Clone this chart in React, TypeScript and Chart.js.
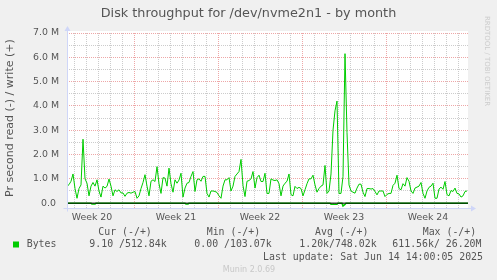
import { useEffect, useRef } from 'react';
import { Chart, registerables } from 'chart.js';

Chart.register(...registerables);

// ---- data ----
const STEP_HOURS = 4;
const RANGE_HOURS = 802;
// write throughput, in M bytes/s, one sample every STEP_HOURS
const WRITE_M = [
  0.69, 0.76, 0.9, 1.2, 0.6, 0.2, 0.6, 0.75, 2.63, 1.0, 0.82, 0.3, 0.7, 0.85, 0.7, 0.96, 0.5, 0.25, 0.7, 0.62,
  0.69, 0.99, 0.7, 0.3, 0.55, 0.48, 0.55, 0.42, 0.42, 0.28, 0.41, 0.44, 0.41, 0.45,
  0.48, 0.2, 0.3, 0.6, 0.85, 1.17, 0.7, 0.3, 0.9, 0.96, 0.89, 1.5, 0.8, 0.4, 1.05, 1.03, 0.7, 1.44, 0.8, 0.45,
  0.96, 0.82, 0.95, 1.23, 0.25, 0.62, 0.82, 0.85, 1.1, 1.3, 0.48, 0.96, 1.0, 0.9, 1.1,
  1.1, 0.4, 0.25, 0.5, 0.5, 0.48, 0.44, 0.3, 0.2, 0.7, 0.96, 0.96, 1.05, 0.5, 0.7, 1.1, 1.2, 1.3, 1.8, 0.72,
  0.27, 0.9, 0.93, 1.0, 1.3, 0.62, 1.05, 1.15, 0.89, 0.89, 1.23, 0.4, 0.4, 1.0, 0.95, 0.93,
  0.96, 0.8, 0.3, 0.7, 0.82, 0.9, 1.2, 0.35, 0.3, 0.69, 0.6, 0.65, 0.6, 0.3, 0.55, 0.8, 1.0, 1.0, 1.15, 0.75,
  0.45, 0.6, 0.7, 0.75, 1.55, 0.4, 0.5,
  1.2, 3.0, 3.8, 4.2, 0.4, 0.4, 1.1, 6.15, 2.9, 0.75, 0.5, 0.45, 0.41, 0.62,
  0.78, 0.78, 0.45, 0.27, 0.6, 0.6, 0.58, 0.6, 0.48, 0.34, 0.5, 0.5, 0.5, 0.27, 0.36, 0.4, 0.4, 0.73, 0.82, 1.15,
  0.6, 0.55, 0.8, 0.7, 1.05, 0.9, 0.5, 0.4,
  0.62, 0.66, 0.7, 0.85, 0.4, 0.2, 0.5, 0.65, 0.7, 0.82, 0.2, 0.2, 0.58, 0.66, 0.57, 0.89, 0.35, 0.3, 0.52, 0.48,
  0.62, 0.4, 0.38, 0.25, 0.3, 0.48, 0.5,
];
// read throughput (drawn negative), M bytes/s
const READ_HOURS = [0, 48, 50, 56, 58, 236, 238, 242, 244, 526, 528, 540, 542, 550, 552, 556, 558, 802];
const READ_M = [0, 0, -0.04, -0.04, 0, 0, -0.04, -0.04, 0, 0, -0.05, -0.05, 0, 0, -0.12, -0.05, 0, 0];

const WEEK_LABELS = ['Week 20', 'Week 21', 'Week 22', 'Week 23', 'Week 24'];
const WEEK_BEGIN_HOURS = [-34, 134, 302, 470, 638];
const Y_MAJOR = [0, 1, 2, 3, 4, 5, 6, 7];
const Y_MINOR = [0.5, 1.5, 2.5, 3.5, 4.5, 5.5, 6.5];
const Y_MIN = -0.2;
const Y_MAX = 7;

const TITLE = 'Disk throughput for /dev/nvme2n1 - by month';
const Y_TITLE = 'Pr second read (-) / write (+)';
const SERIES_NAME = 'Bytes';
const LEGEND_HEADERS = ['Cur (-/+)', 'Min (-/+)', 'Avg (-/+)', 'Max (-/+)'];
const LEGEND_VALUES = ['9.10 /512.84k', '0.00 /103.07k', '1.20k/748.02k', '611.56k/ 26.20M'];
const LAST_UPDATE = 'Last update: Sat Jun 14 14:00:05 2025';
const FOOTER = 'Munin 2.0.69';
const WATERMARK = 'RRDTOOL / TOBI OETIKER';

// ---- layout / style ----
const W = 497;
const H = 280;
const GREEN = '#00cc00';
const FONT_COLOR = '#555555';
const AXIS_COLOR = '#cfd6f8';
const GRID_COLOR = 'rgba(143,143,143,0.45)';
const MGRID_COLOR = 'rgba(222,79,79,0.5)';
const HEADER_X = [98.3, 206.7, 315, 422.7];
const VALUE_X = [89.3, 194.3, 299.3, 392.3];

const HOURS_PER_DAY = 24;
const DAY_TICKS: number[] = [];
WEEK_BEGIN_HOURS.forEach((b) => {
  for (let d = 0; d < 7; d++) {
    const h = b + d * HOURS_PER_DAY;
    if (h > 0 && h < RANGE_HOURS) DAY_TICKS.push(h);
  }
});
const WEEK_CENTERS = WEEK_BEGIN_HOURS.map((b) => b + 3.5 * HOURS_PER_DAY);
const X_TICKS = [...DAY_TICKS, ...WEEK_CENTERS].sort((a, b) => a - b);

const decorPlugin = {
  id: 'decor',
  beforeDraw(chart: any) {
    const { ctx, chartArea } = chart;
    ctx.save();
    ctx.fillStyle = '#f0f0f0';
    ctx.fillRect(0, 0, W, H);
    ctx.fillStyle = '#ffffff';
    ctx.fillRect(chartArea.left, chartArea.top - 2, chartArea.right - chartArea.left, chartArea.bottom - chartArea.top + 2);
    ctx.restore();
  },
  afterDraw(chart: any) {
    const { ctx, chartArea } = chart;
    const l = Math.round(chartArea.left) + 0.5;
    const b = Math.round(chartArea.bottom) + 0.5;
    ctx.save();
    // axes with arrows
    ctx.strokeStyle = AXIS_COLOR;
    ctx.fillStyle = AXIS_COLOR;
    ctx.lineWidth = 1;
    ctx.beginPath();
    ctx.moveTo(l, b + 3);
    ctx.lineTo(l, chartArea.top - 4);
    ctx.moveTo(l - 4, b);
    ctx.lineTo(chartArea.right + 4, b);
    ctx.stroke();
    ctx.beginPath();
    ctx.moveTo(l - 3, chartArea.top - 2);
    ctx.lineTo(l + 3, chartArea.top - 2);
    ctx.lineTo(l, chartArea.top - 7);
    ctx.closePath();
    ctx.fill();
    ctx.beginPath();
    ctx.moveTo(chartArea.right + 3, b - 3);
    ctx.lineTo(chartArea.right + 3, b + 3);
    ctx.lineTo(chartArea.right + 8, b);
    ctx.closePath();
    ctx.fill();

    // title
    ctx.fillStyle = FONT_COLOR;
    ctx.textBaseline = 'middle';
    ctx.textAlign = 'center';
    ctx.font = '12.8px "DejaVu Sans"';
    ctx.fillText(TITLE, W / 2, 13.5);

    // y title
    ctx.save();
    ctx.translate(10.5, (chart.scales.y.getPixelForValue(0) + chart.scales.y.getPixelForValue(Y_MAX)) / 2);
    ctx.rotate(-Math.PI / 2);
    ctx.font = '11px "DejaVu Sans"';
    ctx.fillText(Y_TITLE, 0, 0);
    ctx.restore();

    // watermark
    ctx.save();
    ctx.translate(487.3, 61);
    ctx.rotate(Math.PI / 2);
    ctx.fillStyle = '#cccccc';
    ctx.font = '7px "DejaVu Sans"';
    ctx.fillText(WATERMARK, 0, 0);
    ctx.restore();

    // legend
    ctx.font = '9.9px "DejaVu Sans Mono"';
    ctx.textAlign = 'left';
    ctx.fillStyle = FONT_COLOR;
    LEGEND_HEADERS.forEach((t, i) => ctx.fillText(t, HEADER_X[i], 232.5));
    LEGEND_VALUES.forEach((t, i) => ctx.fillText(t, VALUE_X[i], 244.5));
    ctx.fillText(SERIES_NAME, 26.7, 244.5);
    ctx.textAlign = 'right';
    ctx.fillText(LAST_UPDATE, 483, 257);
    ctx.fillStyle = GREEN;
    ctx.fillRect(13, 241.5, 6, 6);

    ctx.textAlign = 'center';
    ctx.fillStyle = '#c8c8c8';
    ctx.font = '8px "DejaVu Sans"';
    ctx.fillText(FOOTER, 249, 269.5);
    ctx.restore();
  },
};

export default function App() {
  const ref = useRef<HTMLCanvasElement>(null);
  useEffect(() => {
    document.body.style.margin = '0';
    document.body.style.background = '#f0f0f0';
    const canvas = ref.current!;
    const weekLabelAt = new Map<number, string>();
    WEEK_CENTERS.forEach((c, i) => weekLabelAt.set(c, WEEK_LABELS[i]));
    const weekLines = new Set(WEEK_BEGIN_HOURS);
    const dayLines = new Set(DAY_TICKS);
    const yMajor = new Set(Y_MAJOR);
    const tickFont = { family: 'DejaVu Sans', size: 9.4 };

    const chart = new Chart(canvas, {
      type: 'line',
      data: {
        datasets: [
          {
            label: 'zero',
            data: [
              { x: 0, y: 0 },
              { x: RANGE_HOURS, y: 0 },
            ],
            borderColor: '#000000',
            borderWidth: 1,
            order: 0,
          },
          {
            label: 'write',
            data: WRITE_M.map((v, i) => ({ x: i * STEP_HOURS, y: v })),
            borderColor: GREEN,
            borderWidth: 1,
            order: 1,
          },
          {
            label: 'read',
            data: READ_HOURS.map((h, i) => ({ x: h, y: READ_M[i] })),
            borderColor: GREEN,
            borderWidth: 1.5,
            order: 2,
          },
        ],
      },
      options: {
        animation: false,
        responsive: false,
        maintainAspectRatio: false,
        layout: { padding: { left: 0, top: 33, right: 29, bottom: 0 } },
        plugins: { legend: { display: false }, tooltip: { enabled: false }, title: { display: false } },
        elements: { point: { radius: 0 }, line: { tension: 0, fill: false } },
        scales: {
          x: {
            type: 'linear',
            min: 0,
            max: RANGE_HOURS,
            afterFit: (s: any) => {
              s.height = 72;
            },
            afterBuildTicks: (s: any) => {
              s.ticks = X_TICKS.map((v) => ({ value: v }));
            },
            ticks: {
              autoSkip: false,
              maxRotation: 0,
              padding: 4,
              color: FONT_COLOR,
              font: tickFont,
              callback: (v: any) => weekLabelAt.get(Number(v)) ?? '',
            },
            grid: {
              drawTicks: false,
              lineWidth: 1,
              color: (c: any) => {
                const v = c.tick?.value;
                if (weekLines.has(v)) return MGRID_COLOR;
                if (dayLines.has(v)) return GRID_COLOR;
                return 'rgba(0,0,0,0)';
              },
            },
            border: { display: false, dash: [1, 1] },
          },
          y: {
            type: 'linear',
            min: Y_MIN,
            max: Y_MAX,
            afterFit: (s: any) => {
              s.width = 67;
            },
            afterBuildTicks: (s: any) => {
              s.ticks = [...Y_MAJOR, ...Y_MINOR].sort((a, b) => a - b).map((v) => ({ value: v }));
            },
            ticks: {
              autoSkip: false,
              padding: 8,
              color: FONT_COLOR,
              font: tickFont,
              callback: (v: any) => {
                const n = Number(v);
                if (!yMajor.has(n)) return '';
                return n === 0 ? '0.0 ' : n.toFixed(1) + ' M';
              },
            },
            grid: {
              drawTicks: false,
              lineWidth: 1,
              color: (c: any) => {
                const v = c.tick?.value;
                if (v !== 0 && yMajor.has(v)) return MGRID_COLOR;
                return GRID_COLOR;
              },
            },
            border: { display: false, dash: [1, 1] },
          },
        },
      },
      plugins: [decorPlugin],
    } as any);
    return () => chart.destroy();
  }, []);
  return (
    <div style={{ width: W, height: H, background: '#f0f0f0' }}>
      <canvas ref={ref} width={W} height={H} style={{ display: 'block', width: W, height: H }} />
    </div>
  );
}
